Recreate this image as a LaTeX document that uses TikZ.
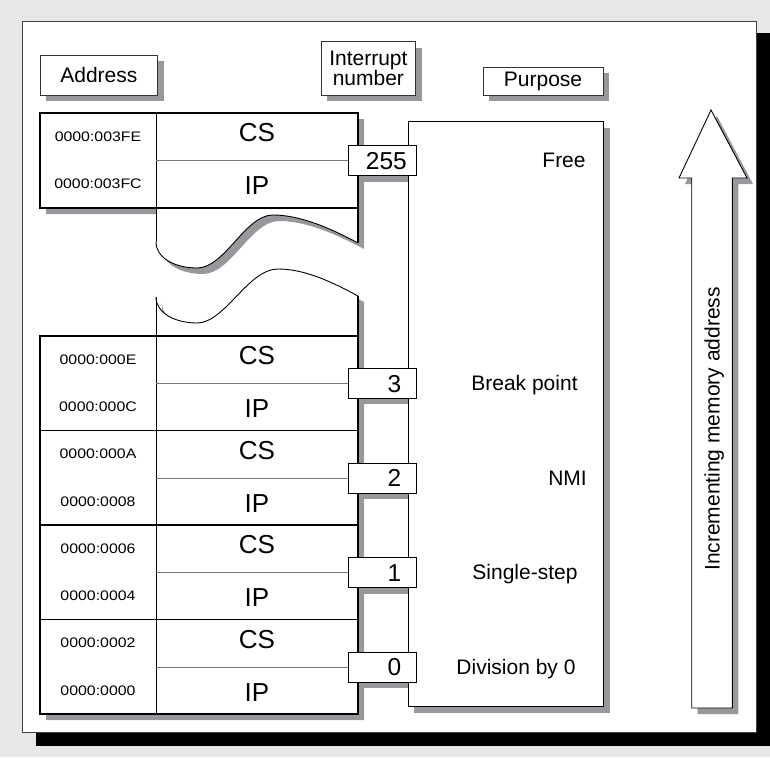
\documentclass[tikz,border=0pt]{standalone}
\usepackage{fontspec}
\setmainfont{Liberation Sans}
\newfontfamily\addrfont[FakeStretch=1.15]{Liberation Sans}
\usetikzlibrary{shadows}
\definecolor{bggray}{HTML}{E6E7E9}
\definecolor{shgray}{HTML}{98989C}
\definecolor{divgray}{HTML}{787878}
\newcommand\TopCurve{(156,242) .. controls (156,258) and (175,268) .. (197,268) .. controls (225,268) and (245,215) .. (273,215) .. controls (300,215) and (330,228) .. (358,243)}
\newcommand\TopPiece{\TopCurve -- (358,113) -- (40,113) -- (40,208) -- (156,208) -- cycle}
\newcommand\LowCurve{(156,297) .. controls (156,313) and (175,323) .. (197,323) .. controls (225,323) and (248,269) .. (278,269) .. controls (305,269) and (332,282) .. (358,296)}
\newcommand\LowPiece{\LowCurve -- (358,714) -- (40,714) -- (40,336) -- (156,336) -- cycle}
\newcommand\ArrowPath{(691.7,708) -- (691.7,178) -- (679,178) -- (711,110) -- (747,178) -- (732.3,178) -- (732.3,708) -- cycle}
\tikzset{
  framebd/.style={draw=black!75, line width=0.8pt, fill=white},
  thickbd/.style={draw=black, line width=1.7pt},
  thinbd/.style={draw=black, line width=0.9pt},
  divln/.style={draw=divgray, line width=0.9pt},
  hdrshadow/.style={drop shadow={shadow xshift=6pt, shadow yshift=-6pt, fill=shgray, opacity=1}},
  hdr/.style={draw=black!80, line width=0.8pt, fill=white, inner sep=0, hdrshadow,
    font=\fontsize{21}{19.3}\selectfont, align=center},
  lbl/.style={inner sep=0, font=\fontsize{21}{20}\selectfont, text height=15pt, text depth=0pt},
  reg/.style={inner sep=0, font=\fontsize{26}{26}\selectfont, text height=18.6pt, text depth=0pt},
  addr/.style={inner sep=0, font=\addrfont\fontsize{13.8}{14}\selectfont, text height=9.9pt, text depth=0pt},
  num/.style={inner sep=0, font=\fontsize{24.5}{25}\selectfont, text height=17.5pt, text depth=0pt, anchor=east},
  numbox/.style={draw=black, line width=0.8pt, fill=white, minimum width=68pt, minimum height=30pt, inner sep=0},
}
\begin{document}
\begin{tikzpicture}[x=1pt,y=-1pt]
\useasboundingbox (0,0) rectangle (770,757);
\fill[bggray] (0,0) rectangle (770,757);
\fill[black] (36,33) rectangle (770,746);
\draw[framebd] (22,21) rectangle (756,732);
% shadows
\fill[shgray, shift={(6,6)}] \TopPiece;
\fill[shgray, shift={(6,6)}] \LowPiece;
\foreach \c in {161,383,477.7,572.7,667} {
  \fill[shgray] (354,\c-9) rectangle (422,\c+21);
}
\fill[shgray] (414,127.7) rectangle (609.5,712.7);
\fill[shgray, shift={(6,6)}] \ArrowPath;
% header boxes
\node[hdr, minimum width=117.7pt, minimum height=40pt] (addrhdr) at (98.85,75) {Address};
\node[hdr, minimum width=94.7pt, minimum height=53.3pt] (inthdr) at (368.35,68.35) {Interrupt\\number};
\node[hdr, minimum width=120pt, minimum height=28pt] (purphdr) at (543,81) {Purpose};
% memory pieces
\fill[white] \TopPiece;
\fill[white] \LowPiece;
\draw[thinbd] \TopCurve;
\draw[thinbd] \LowCurve;
\draw[thinbd] (156,113) -- (156,242);
\draw[thinbd] (156,297) -- (156,714);
\draw[thickbd] (358,208) -- (358,243);
\draw[thickbd] (358,296) -- (358,336);
\draw[thickbd] (40,113) rectangle (358,208);
\draw[thickbd] (40,336) rectangle (358,714);
\foreach \y in {430.5,525,619.5} { \draw[thickbd] (40,\y) -- (358,\y); }
% purpose column
\draw[thinbd, fill=white] (408,121.7) rectangle (603.5,706.7);
% arrow
\draw[thinbd, fill=white] \ArrowPath;
\node[lbl, rotate=90] (incr) at (712,429) {Incrementing memory address};
% block contents
\foreach \t/\hi/\lo/\n/\nx/\nm/\pl/\px in {
   113/0000:003FE/0000:003FC/255/407/v255/Free/564,
   336/0000:000E/0000:000C/3/401.5/v3/Break point/524.5,
   430.5/0000:000A/0000:0008/2/401.5/v2/NMI/567.5,
   525/0000:0006/0000:0004/1/401.5/v1/Single-step/525,
   619.5/0000:0002/0000:0000/0/401.5/v0/Division by 0/516} {
  \coordinate (d\nm) at (156,\t+47.5);
  \node[numbox] (b\nm) at (382,\t+47.5) {};
  \draw[divln] (d\nm) -- (b\nm.west);
  \node[num] (t\nm) at (\nx,\t+47.5) {\n};
  \node[reg] (cs\nm) at (257,\t+19.5) {CS};
  \node[reg] (ip\nm) at (257,\t+72.5) {IP};
  \node[addr] (ah\nm) at (98,\t+23.5) {\hi};
  \node[addr] (al\nm) at (98,\t+71) {\lo};
  \node[lbl] (p\nm) at (\px,\t+47) {\pl};
}
\end{tikzpicture}
\end{document}
